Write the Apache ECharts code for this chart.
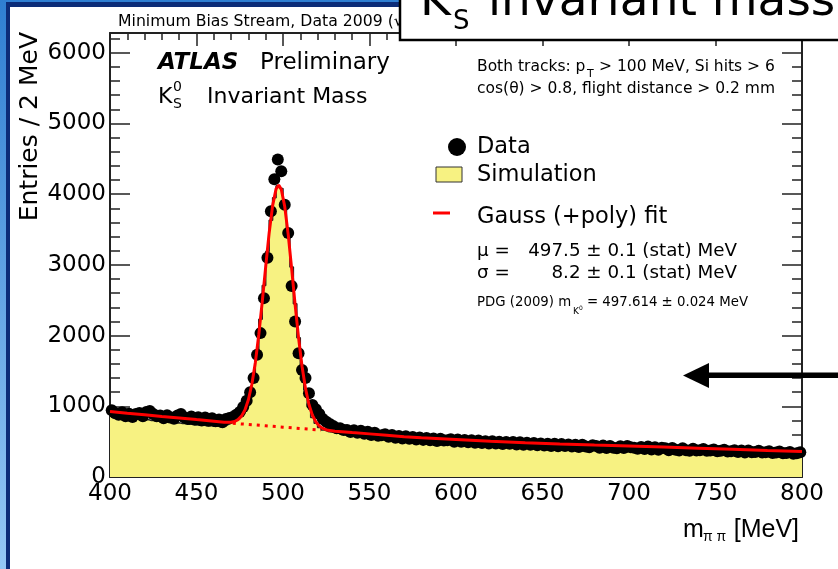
<!DOCTYPE html>
<html>
<head>
<meta charset="utf-8">
<title>Ks invariant mass</title>
<script src="https://cdn.jsdelivr.net/npm/echarts@6/dist/echarts.min.js"></script>
<style>
html, body { margin: 0; padding: 0; background: #fff; }
#chart { width: 838px; height: 569px; }
</style>
</head>
<body>
<div id="chart"></div>
<script>
var FONT = 'DejaVu Sans';

// histogram binning: 2 MeV bins from 400 to 800 MeV
var binLow = 400;
var binWidth = 2;

// data points per bin (bin centres 401, 403, ... 799), 10 bins per row
var dataValues = [
	945, 900, 880, 915, 860, 895, 850, 890, 905, 860,
	920, 935, 890, 860, 870, 830, 875, 840, 825, 870,
	890, 840, 820, 855, 810, 845, 800, 840, 795, 830,
	790, 815, 775, 820, 835, 850, 880, 920, 990, 1080,
	1200, 1400, 1730, 2035, 2530, 3100, 3760, 4210, 4490, 4325,
	3850, 3450, 2700, 2200, 1750, 1515, 1400, 1185, 1020, 960,
	890, 820, 780, 750, 720, 690, 690, 665, 665, 635,
	660, 625, 655, 610, 640, 595, 625, 585, 590, 605,
	570, 595, 555, 580, 545, 575, 540, 565, 530, 560,
	525, 550, 520, 545, 510, 540, 515, 520, 535, 500,
	530, 500, 525, 490, 520, 485, 515, 480, 505, 475,
	505, 475, 500, 465, 495, 470, 495, 460, 490, 455,
	485, 455, 480, 450, 475, 445, 470, 440, 470, 435,
	465, 440, 460, 430, 455, 425, 455, 430, 420, 450,
	440, 415, 445, 410, 440, 415, 405, 435, 410, 440,
	420, 415, 400, 425, 395, 430, 390, 420, 385, 415,
	405, 380, 410, 385, 375, 405, 380, 370, 400, 375,
	380, 395, 370, 375, 390, 365, 370, 385, 360, 365,
	380, 355, 375, 345, 375, 350, 355, 370, 345, 350,
	365, 340, 345, 360, 335, 340, 355, 330, 335, 350
];

// simulation histogram, same bins
var simValues = [
	860, 848, 852, 838, 842, 826, 830, 818, 822, 808,
	812, 800, 798, 790, 786, 780, 772, 776, 762, 766,
	755, 758, 745, 748, 738, 732, 735, 724, 728, 718,
	720, 712, 715, 740, 760, 785, 815, 860, 900, 985,
	1150, 1420, 1780, 2230, 2710, 3190, 3630, 3950, 4120, 4080,
	3850, 3450, 2970, 2450, 1970, 1560, 1230, 990, 840, 760,
	700, 665, 645, 635, 628, 620, 610, 602, 595, 588,
	583, 578, 576, 570, 568, 562, 560, 553, 551, 546,
	544, 538, 536, 530, 528, 522, 521, 516, 514, 510,
	508, 503, 502, 497, 496, 491, 490, 486, 485, 481,
	480, 476, 475, 471, 470, 466, 465, 461, 460, 457,
	456, 452, 451, 448, 447, 444, 443, 440, 439, 436,
	435, 432, 431, 428, 427, 424, 423, 421, 420, 417,
	416, 414, 413, 410, 409, 407, 406, 404, 403, 400,
	399, 397, 396, 394, 393, 390, 389, 387, 386, 384,
	383, 381, 380, 378, 377, 375, 374, 372, 371, 369,
	368, 366, 365, 363, 362, 360, 359, 357, 356, 354,
	353, 351, 350, 348, 347, 345, 344, 342, 341, 339,
	338, 336, 335, 333, 332, 330, 329, 327, 326, 324,
	323, 321, 320, 318, 317, 315, 314, 312, 311, 309
];

// Gauss (+poly) fit curve
var fitX = [400, 410, 420, 430, 440, 450, 460, 466, 470, 472, 474, 476, 478, 480, 482, 484, 486, 488, 490,
	492, 494, 496, 497.5, 499, 501, 503, 505, 507, 509, 511, 513, 515, 517, 519, 521, 523, 526, 530,
	540, 550, 560, 570, 580, 600, 620, 640, 660, 680, 700, 720, 740, 760, 780, 800];
var fitY = [925, 902, 880, 857, 835, 812, 790, 776, 774, 785, 811, 861, 949, 1093, 1312, 1617, 2012, 2476, 2976,
	3452, 3838, 4075, 4130, 4070, 3825, 3431, 2947, 2439, 1968, 1566, 1253, 1026, 874, 779, 722, 688, 660, 648,
	628, 610, 590, 570, 555, 530, 505, 484, 467, 452, 440, 424, 408, 392, 375, 359];

// polynomial background under the peak (dotted)
var bkgX = [471, 480, 490, 500, 510, 522];
var bkgY = [760, 743, 724, 705, 686, 663];

// axis ranges
var xMin = 400, xMax = 800, xStep = 50;
var yMin = 0, yMax = 6280, yStep = 1000;

var dataPts = dataValues.map(function (v, i) { return [binLow + binWidth * (i + 0.5), v]; });
var simPts = simValues.map(function (v, i) { return [binLow + binWidth * i, v]; });
simPts.push([binLow + binWidth * simValues.length, simValues[simValues.length - 1]]);
var fitPts = fitX.map(function (x, i) { return [x, fitY[i]]; });
var bkgPts = bkgX.map(function (x, i) { return [x, bkgY[i]]; });

function font(size, o) {
	o = o || {};
	return [o.style || '', o.weight || '', size + 'px', '"' + (o.family || FONT) + '"'].join(' ').trim();
}

function label(x, y, text, size, o) {
	o = o || {};
	return {
		type: 'text', x: x, y: y, z: o.z || 30, rotation: o.rot || 0,
		style: {
			text: text, fill: o.color || '#000', font: font(size, o),
			align: o.align || 'left', textAlign: o.align || 'left',
			verticalAlign: 'middle', textVerticalAlign: 'middle'
		}
	};
}

function frameAxis(pos, isX, tickLen, minorLen) {
	return {
		type: 'value', position: pos,
		min: isX ? xMin : yMin, max: isX ? xMax : yMax, interval: isX ? xStep : yStep,
		axisLine: { show: true, onZero: false, lineStyle: { color: '#222', width: 2 } },
		axisTick: { show: true, inside: true, length: tickLen, lineStyle: { color: '#222', width: 1.5 } },
		minorTick: { show: true, splitNumber: 5, length: minorLen, lineStyle: { color: '#222', width: 1.5 } },
		splitLine: { show: false },
		minorSplitLine: { show: false },
		axisLabel: { show: false }
	};
}

function plainNumber(v) { return String(v); }

var xBottom = frameAxis('bottom', true, 13, 7);
xBottom.axisLabel = { show: true, color: '#000', fontSize: 23, fontFamily: FONT, margin: 6, formatter: plainNumber };
var xTop = frameAxis('top', true, 13, 7);
var yLeft = frameAxis('left', false, 20, 10);
yLeft.axisLabel = { show: true, color: '#000', fontSize: 23, fontFamily: FONT, margin: 4, showMaxLabel: false, formatter: plainNumber };
var yRight = frameAxis('right', false, 20, 10);

var graphics = [
	// slide frame
	{ type: 'rect', z: -10, shape: { x: 0, y: 0, width: 838, height: 569 },
		style: { fill: new echarts.graphic.LinearGradient(0, 0, 0, 1, [
			{ offset: 0, color: '#2f7fd2' }, { offset: 1, color: '#95c8f5' }]) } },
	{ type: 'rect', z: -9, shape: { x: 6, y: 2, width: 832, height: 567 }, style: { fill: '#0c2c78' } },
	{ type: 'rect', z: -8, shape: { x: 10, y: 7, width: 828, height: 562 }, style: { fill: '#fff' } },

	label(118, 22, 'Minimum Bias Stream, Data 2009 (\u221As = 900 GeV)', 15.7),

	// slide title box
	{ type: 'rect', z: 50, shape: { x: 400, y: -10, width: 450, height: 50 },
		style: { fill: '#fff', stroke: '#000', lineWidth: 2.5 } },
	label(420, 3, 'K', 47, { z: 51 }),
	label(453, 22.5, 'S', 26, { z: 51 }),
	label(488, 3, 'invariant mass', 47, { z: 51 }),

	label(158, 63, 'ATLAS', 23, { style: 'italic', weight: 'bold' }),
	label(260, 63, 'Preliminary', 23),
	label(158, 97, 'K', 22),
	label(173, 87, '0', 14),
	label(173, 104, 'S', 14),
	label(207, 97, 'Invariant Mass', 22),

	label(477, 67, 'Both tracks: p', 15.5),
	label(587, 74, 'T', 11),
	label(599, 67, '> 100 MeV, Si hits > 6', 15.5),
	label(477, 89, 'cos(\u03b8) > 0.8, flight distance > 0.2 mm', 15.5),

	// legend
	{ type: 'circle', z: 30, shape: { cx: 457, cy: 147, r: 9 }, style: { fill: '#000' } },
	{ type: 'rect', z: 30, shape: { x: 436, y: 167, width: 26, height: 15 },
		style: { fill: '#f7f282', stroke: '#333', lineWidth: 1 } },
	{ type: 'line', z: 30, shape: { x1: 433, y1: 213, x2: 450, y2: 213 },
		style: { stroke: '#ff0000', lineWidth: 3 } },
	label(477, 147, 'Data', 22.5),
	label(477, 175, 'Simulation', 22.5),
	label(477, 217, 'Gauss (+poly) fit', 22.5),
	label(477, 251, '\u03bc =', 18.3),
	label(737, 251, '497.5 \u00b1 0.1 (stat) MeV', 18.3, { align: 'right' }),
	label(477, 273, '\u03c3 =', 18.3),
	label(737, 273, '8.2 \u00b1 0.1 (stat) MeV', 18.3, { align: 'right' }),
	label(477, 303, 'PDG (2009) m', 13.3),
	label(573, 312, 'K', 9),
	label(579, 308, '0', 6),
	label(587, 303, '= 497.614 \u00b1 0.024 MeV', 13.3),

	// axis titles
	label(30, 32, 'Entries / 2 MeV', 25, { rot: Math.PI / 2, align: 'right' }),
	label(683, 530, 'm', 25, { family: 'Liberation Sans' }),
	label(703, 537, '\u03c0 \u03c0', 14, { family: 'Liberation Sans' }),
	label(799, 530, '[MeV]', 25, { family: 'Liberation Sans', align: 'right' }),

	// arrow from the slide
	{ type: 'rect', z: 40, shape: { x: 705, y: 372.5, width: 140, height: 5.5 }, style: { fill: '#000' } },
	{ type: 'polygon', z: 40, shape: { points: [[683, 375.5], [709, 363], [709, 388]] }, style: { fill: '#000' } }
];

var option = {
	animation: false,
	backgroundColor: '#fff',
	grid: { left: 110, right: 36, top: 33, bottom: 92 },
	xAxis: [xBottom, xTop],
	yAxis: [yLeft, yRight],
	graphic: { elements: graphics },
	series: [
		{
			name: 'Simulation', type: 'line', step: 'end', data: simPts,
			symbol: 'none', z: 1,
			lineStyle: { color: '#222', width: 1.5 },
			areaStyle: { color: '#f7f282', opacity: 1 }
		},
		{
			name: 'Data', type: 'scatter', data: dataPts, z: 2, clip: false,
			symbol: 'circle', symbolSize: 12,
			itemStyle: { color: '#000', opacity: 1 }
		},
		{
			name: 'Background', type: 'line', data: bkgPts, z: 3,
			symbol: 'none',
			lineStyle: { color: '#ff0000', width: 3, type: [3, 5] }
		},
		{
			name: 'Gauss (+poly) fit', type: 'line', data: fitPts, z: 4,
			symbol: 'none',
			lineStyle: { color: '#ff0000', width: 3 }
		}
	]
};

var myChart = echarts.init(document.getElementById('chart'));
myChart.setOption(option);
</script>
</body>
</html>
